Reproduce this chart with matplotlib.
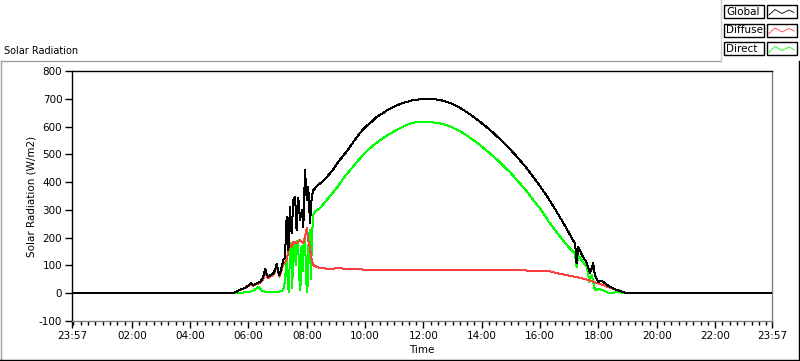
import matplotlib
matplotlib.use("Agg")
import matplotlib.pyplot as plt
from matplotlib.lines import Line2D
from matplotlib.patches import Rectangle

# ---------------- data (time in hours of day, values in W/m2) ----------------
t_global = [-0.05, 5.3, 5.47, 5.6, 5.71, 5.85, 5.94, 6.02, 6.09, 6.17, 6.28, 6.4, 6.5, 6.57,
            6.62, 6.68, 6.76, 6.85, 6.92, 6.97, 7.02, 7.06, 7.1, 7.14, 7.19, 7.25, 7.31, 7.37,
            7.42, 7.48, 7.54, 7.60, 7.65, 7.71, 7.77, 7.83, 7.88, 7.94, 8.0, 8.05, 8.11, 8.17,
            8.22, 8.34, 8.45, 8.57, 8.7, 8.8, 8.95, 9.07, 9.25, 9.4, 9.6, 9.82, 10.0, 10.2,
            10.4, 10.61, 10.8, 11.0, 11.2, 11.4, 11.6, 11.8, 11.98, 12.2, 12.4, 12.6, 12.91,
            13.1, 13.3, 13.5, 13.7, 13.87, 14.0, 14.25, 14.5, 14.75, 15.0, 15.25, 15.5, 15.75,
            16.0, 16.25, 16.5, 16.74, 17.0, 17.2, 17.25, 17.31, 17.4, 17.5, 17.6, 17.64, 17.71,
            17.77, 17.82, 17.88, 17.99, 18.1, 18.22, 18.39, 18.6, 18.84, 18.95, 23.95]
v_global = [0, 0, 0, 6, 13, 18, 23, 30, 37, 29, 36, 41, 55, 89,
            70, 59, 66, 71, 85, 107, 80, 65, 80, 95, 119, 126, 275, 155,
            311, 216, 335, 347, 227, 342, 263, 299, 239, 443, 335, 383, 252, 347,
            370, 385, 395, 405, 420, 432, 452, 472, 495, 515, 545, 576, 598, 615,
            635, 648, 662, 672, 681, 688, 694, 697, 699, 700, 698, 695, 685,
            676, 664, 651, 636, 623, 612, 591, 567, 542, 515, 486, 455, 421,
            385, 347, 305, 263, 215, 178, 108, 167, 145, 125, 110, 95, 72,
            90, 108, 65, 41, 45, 36, 23, 12, 5, 0, 0]

t_diffuse = [-0.05, 5.47, 5.71, 5.94, 6.09, 6.17, 6.28, 6.4, 6.5, 6.57, 6.68, 6.85, 6.97, 7.06,
             7.14, 7.19, 7.25, 7.31, 7.37, 7.42, 7.48, 7.54, 7.65, 7.77, 7.88, 7.94, 8.0, 8.05,
             8.1, 8.17, 8.22, 8.34, 8.45, 8.8, 9.07, 9.5, 10.0, 10.5, 11.0, 11.5, 12.0, 12.5,
             13.0, 13.5, 14.0, 14.5, 15.0, 15.5, 15.7, 15.85, 16.0, 16.34, 16.6, 16.9, 17.2,
             17.5, 17.8, 18.1, 18.4, 18.7, 18.95, 23.95]
v_diffuse = [0, 0, 12, 21, 34, 27, 33, 38, 50, 70, 55, 65, 95, 60,
             85, 105, 110, 119, 155, 180, 167, 185, 180, 191, 180, 205, 234, 191,
             167, 119, 101, 95, 90, 88, 90, 87, 85, 84, 82, 83, 84, 83,
             82, 83, 84, 83, 83, 82, 80, 80, 79, 79, 72, 65, 59,
             52, 42, 32, 20, 10, 0, 0]

t_direct = [-0.05, 5.6, 5.8, 6.0, 6.15, 6.25, 6.35, 6.45, 6.6, 6.8, 7.0, 7.15, 7.22, 7.27,
            7.31, 7.35, 7.39, 7.42, 7.46, 7.5, 7.54, 7.58, 7.62, 7.65, 7.7, 7.74, 7.78, 7.82,
            7.86, 7.9, 7.94, 7.98, 8.02, 8.06, 8.1, 8.14, 8.18, 8.22, 8.27, 8.45, 8.6, 8.8,
            9.07, 9.3, 9.5, 9.82, 10.0, 10.25, 10.51, 10.75, 11.0, 11.3, 11.5, 11.71, 12.0,
            12.3, 12.5, 12.74, 13.0, 13.25, 13.5, 13.7, 13.87, 14.0, 14.25, 14.5, 14.75, 15.0,
            15.25, 15.5, 15.75, 16.0, 16.34, 16.6, 16.9, 17.19, 17.25, 17.31, 17.45, 17.6,
            17.69, 17.77, 17.88, 18.0, 18.16, 18.3, 18.48, 18.6, 18.72, 18.8, 23.95]
v_direct = [0, 0, 2, 5, 8, 15, 23, 10, 4, 3, 5, 8, 20, 70,
            130, 30, 3, 150, 180, 20, 170, 185, 100, 185, 190, 60, 10, 170,
            80, 190, 200, 40, 5, 180, 227, 50, 210, 280, 293, 306, 325, 350,
            385, 420, 445, 485, 505, 530, 551, 568, 583, 600, 609, 615, 617,
            615, 613, 607, 597, 583, 567, 552, 539, 528, 506, 483, 458, 432,
            402, 372, 338, 305, 251, 215, 175, 143, 95, 137, 115, 95,
            41, 65, 11, 15, 11, 3, 0, 4, 5, 0, 0]

x_tick_pos = [-0.05, 2, 4, 6, 8, 10, 12, 14, 16, 18, 20, 22, 23.95]
x_tick_labels = ["23:57", "02:00", "04:00", "06:00", "08:00", "10:00", "12:00",
                 "14:00", "16:00", "18:00", "20:00", "22:00", "23:57"]
y_ticks = [-100, 0, 100, 200, 300, 400, 500, 600, 700, 800]
legend_names = ["Global", "Diffuse", "Direct"]
series_colors = ["#000000", "#FF4040", "#00FF00"]

# ---------------- figure ----------------
plt.rcParams['font.family'] = ['DejaVu Sans']
W, H = 800, 361
fig = plt.figure(figsize=(W / 100, H / 100), dpi=100)
fig.patch.set_facecolor("white")

def fx(px):
    return px / W

def fy(py):
    return 1 - py / H

ax = fig.add_axes([fx(72), fy(321), fx(772) - fx(72), fy(71) - fy(321)])
ax.set_xlim(-0.05, 23.95)
ax.set_ylim(-100, 800)

lw = 0.72
ax.plot(t_direct, v_direct, color=series_colors[2], lw=lw, antialiased=False, zorder=2)
ax.plot(t_diffuse, v_diffuse, color=series_colors[1], lw=lw, antialiased=False, zorder=3)
ax.plot(t_global, v_global, color=series_colors[0], lw=lw, antialiased=False, zorder=4)

ax.set_xticks(x_tick_pos)
ax.set_xticklabels(x_tick_labels)
minor = [m * 0.25 for m in range(0, 96) if (m * 0.25) % 2 != 0 or m == 0]
ax.set_xticks(minor, minor=True)
ax.set_yticks(y_ticks)
ax.set_yticklabels([str(v) for v in y_ticks])

fs = 7.5
ax.tick_params(axis='x', which='major', length=5, width=1, direction='out', labelsize=fs, pad=2)
ax.tick_params(axis='x', which='minor', length=3, width=1, direction='out')
ax.tick_params(axis='y', which='major', length=5, width=1, direction='out', labelsize=fs, pad=2)

for side in ['left', 'top']:
    ax.spines[side].set_color('black')
    ax.spines[side].set_linewidth(1)
for side in ['right', 'bottom']:
    ax.spines[side].set_color('#808080')
    ax.spines[side].set_linewidth(1)

ax.set_xlabel("Time", fontsize=fs, labelpad=3)
ax.set_ylabel("Solar Radiation (W/m2)", fontsize=fs, labelpad=2)

fig.text(fx(4), fy(51), "Solar Radiation", fontsize=7, ha='left', va='center')

# outer panel frame
grey = '#A0A0A0'
fig.add_artist(Line2D([fx(0.5), fx(721)], [fy(60.5), fy(60.5)], color=grey, lw=1))
fig.add_artist(Line2D([fx(0.5), fx(0.5)], [fy(60.5), fy(360)], color=grey, lw=1))
fig.add_artist(Line2D([fx(0), fx(798.5)], [fy(359.5), fy(359.5)], color='black', lw=1))
fig.add_artist(Line2D([fx(798.5), fx(798.5)], [fy(60.5), fy(360)], color='black', lw=1))
fig.add_artist(Line2D([fx(721), fx(721)], [fy(0), fy(60.5)], color='#D0D0D0', lw=1))

# legend panel
box_y = [5, 23.5, 42]
for i, name in enumerate(legend_names):
    y0 = box_y[i]
    fig.add_artist(Rectangle((fx(723.5), fy(y0 + 13)), fx(40), fy(0) - fy(13),
                             facecolor='white', edgecolor='black', lw=1))
    fig.text(fx(726), fy(y0 + 6.8), name, fontsize=fs, ha='left', va='center')
    fig.add_artist(Rectangle((fx(766.5), fy(y0 + 13)), fx(30), fy(0) - fy(13),
                             facecolor='white', edgecolor='black', lw=1))
    zx = [769, 775, 782, 789, 794]
    zy = [y0 + 10, y0 + 4.5, y0 + 8.5, y0 + 5, y0 + 7.5]
    fig.add_artist(Line2D([fx(v) for v in zx], [fy(v) for v in zy],
                          color=series_colors[i], lw=0.6))

fig.savefig("out.png", dpi=100)
